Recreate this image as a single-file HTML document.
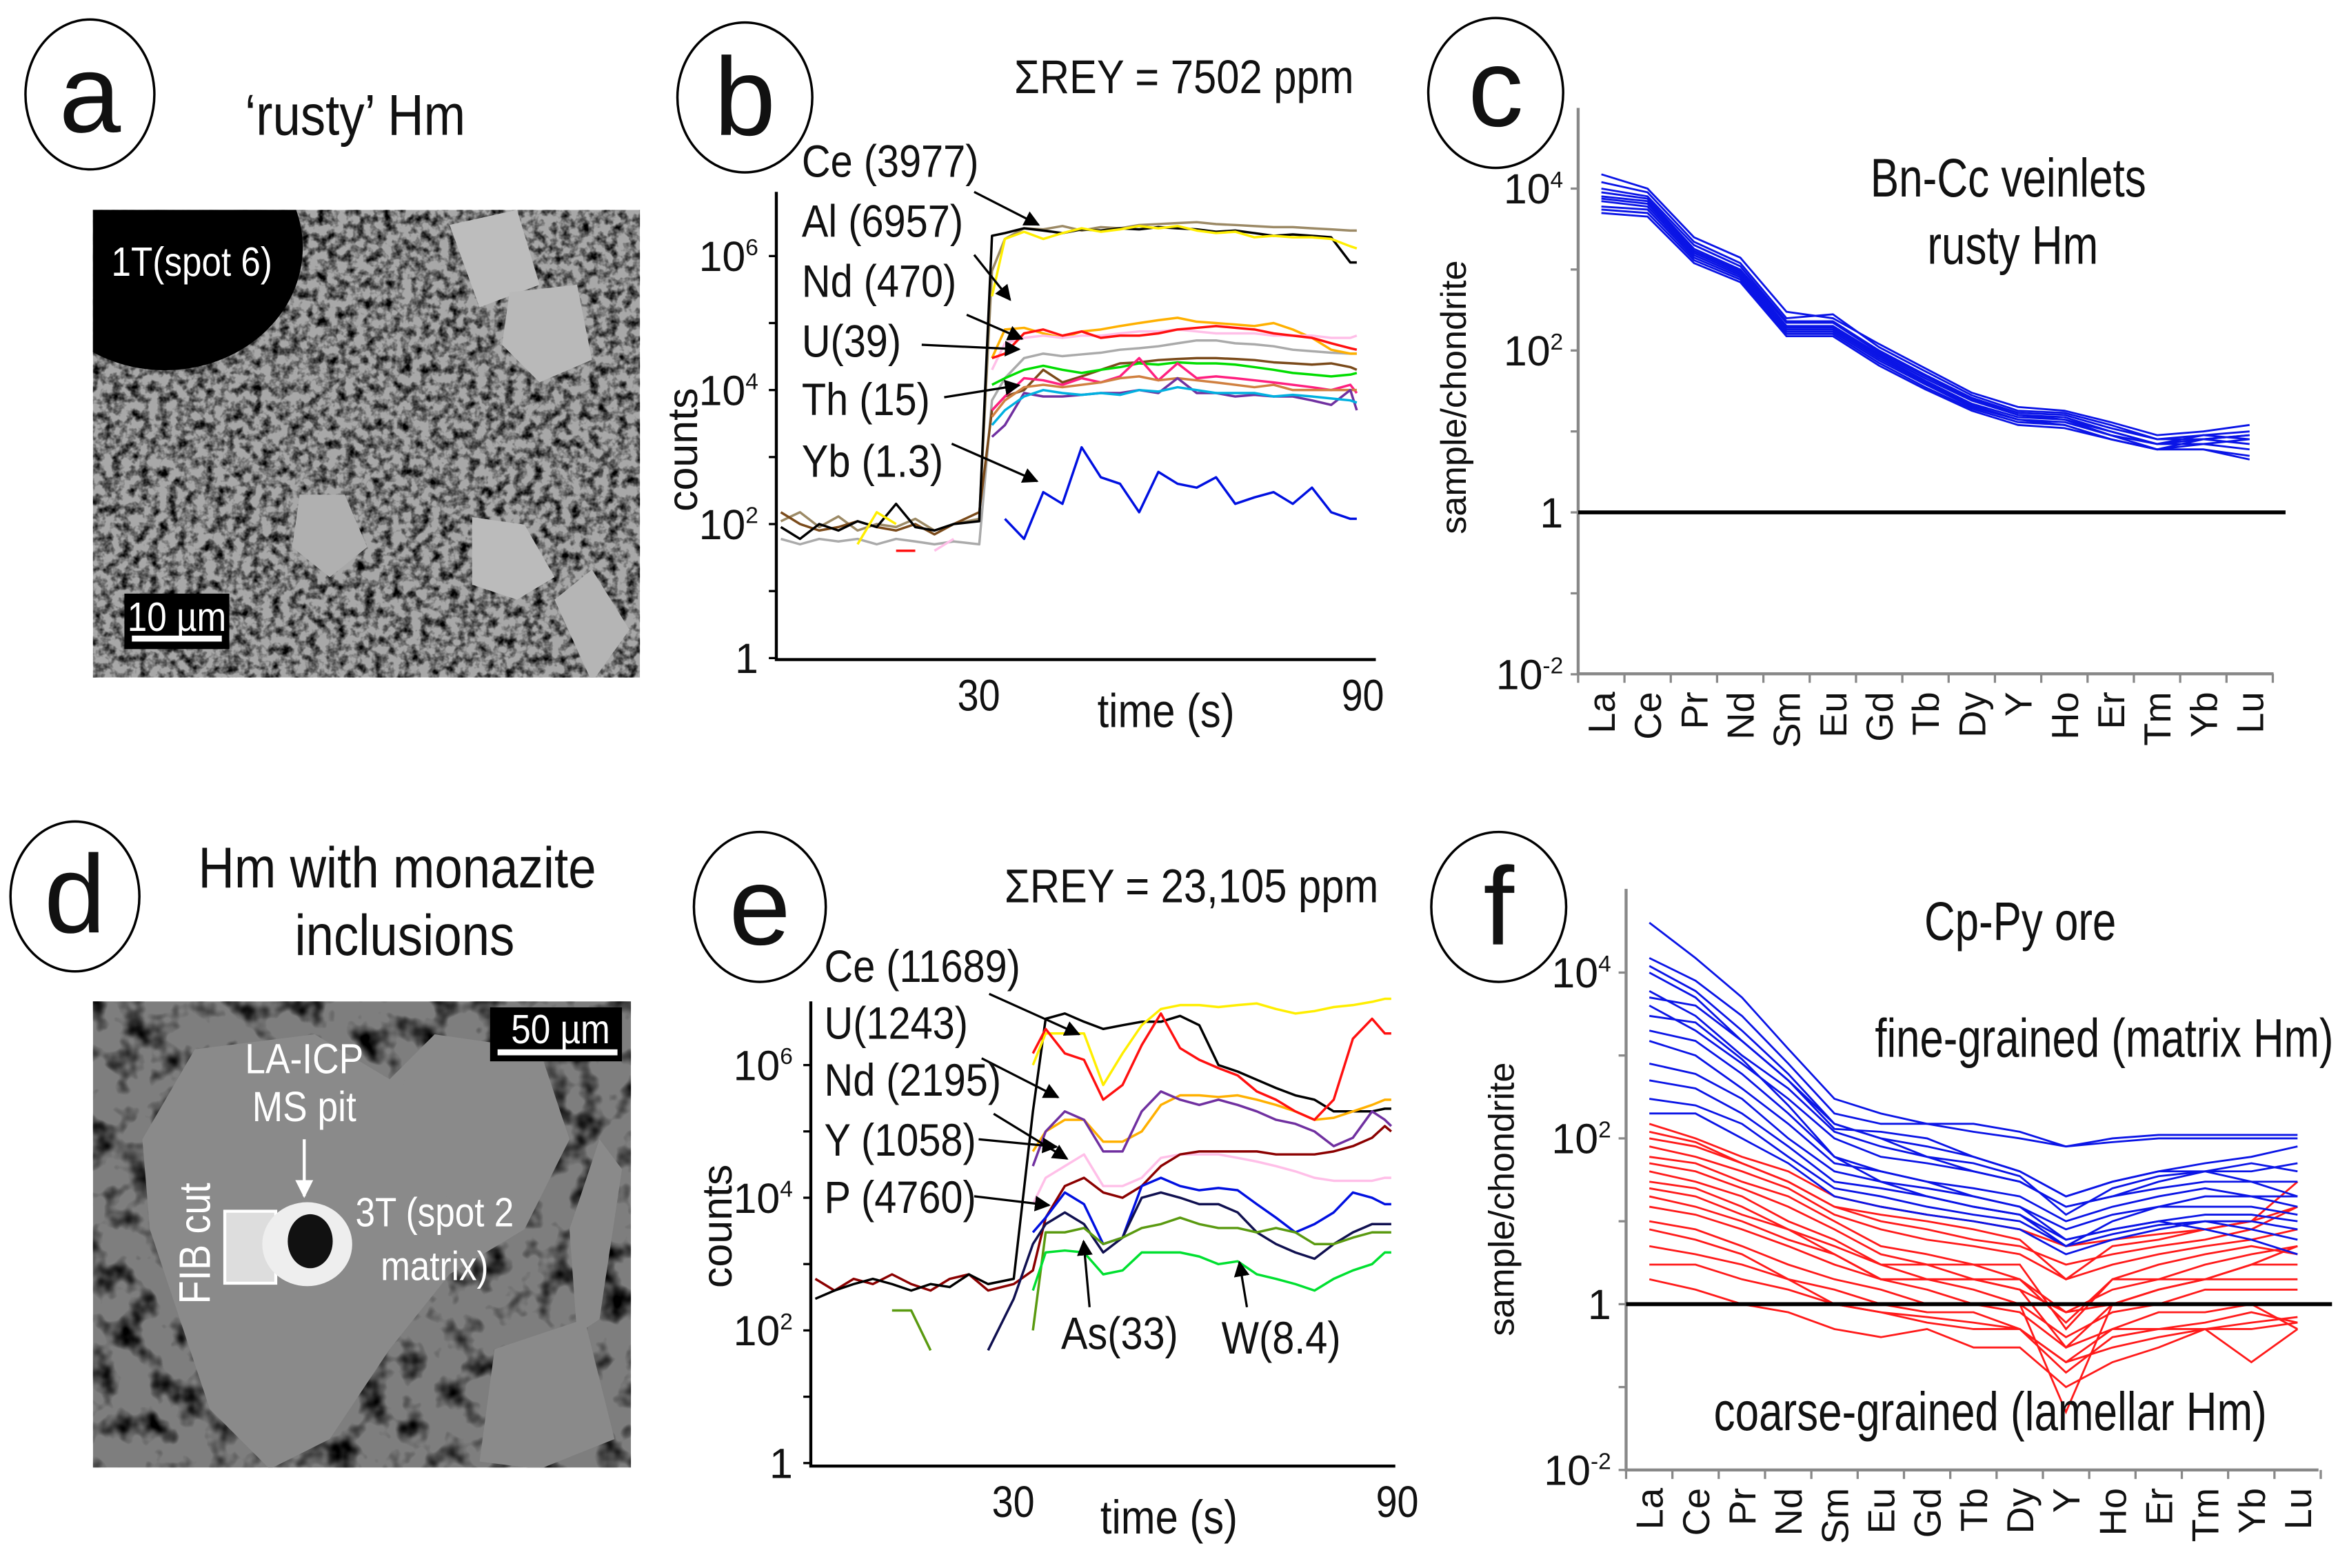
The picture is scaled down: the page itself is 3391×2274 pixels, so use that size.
<!DOCTYPE html>
<html><head><meta charset="utf-8">
<style>
html,body{margin:0;padding:0;background:#fff;}
svg{display:block;}
text{font-family:"Liberation Sans",sans-serif;fill:#111;}
</style></head>
<body>
<svg id="fig" xmlns="http://www.w3.org/2000/svg" width="3391" height="2274" viewBox="0 0 1560 1046" preserveAspectRatio="none">
<defs>
<filter id="semA" x="0" y="0" width="1" height="1">
<feTurbulence type="fractalNoise" baseFrequency="0.16" numOctaves="3" seed="4"/>
<feColorMatrix type="matrix" values="0 0 0 0 0  0 0 0 0 0  0 0 0 0 0  0 0 0 -2.4 1.45"/>
</filter>
<filter id="semD" x="0" y="0" width="1" height="1">
<feTurbulence type="fractalNoise" baseFrequency="0.05" numOctaves="3" seed="9"/>
<feColorMatrix type="matrix" values="0 0 0 0 0  0 0 0 0 0  0 0 0 0 0  0 0 0 -3 1.55"/>
</filter>
<marker id="arr" viewBox="0 0 10 10" refX="9" refY="5" markerWidth="7" markerHeight="7" orient="auto-start-reverse">
<path d="M0,0 L10,5 L0,10 z" fill="#000"/>
</marker>
<marker id="arrW" viewBox="0 0 10 10" refX="9" refY="5" markerWidth="6" markerHeight="6" orient="auto">
<path d="M0,0 L10,5 L0,10 z" fill="#fff"/>
</marker>
<clipPath id="clipA"><rect x="62" y="140" width="365" height="312"/></clipPath>
<clipPath id="clipD"><rect x="62" y="668" width="359" height="311"/></clipPath>
</defs>

<g>
<ellipse cx="60" cy="63" rx="43" ry="50" fill="none" stroke="#000" stroke-width="1.6"/>
<text x="60" y="88" font-size="74" text-anchor="middle">a</text>
<text class="cond" x="237" y="90" font-size="34" text-anchor="middle">‘rusty’ Hm</text>
<g clip-path="url(#clipA)">
<rect x="62" y="140" width="365" height="312" fill="#a8a8a8"/>
<rect x="62" y="140" width="365" height="312" fill="#000" filter="url(#semA)"/>
<polygon points="300,150 345,140 360,190 320,205" fill="#bdbdbd"/>
<polygon points="395,455 420,420 395,380 370,400" fill="#b5b5b5"/>
<polygon points="315,345 350,350 370,385 345,400 315,390" fill="#bbbbbb"/>
<polygon points="340,195 385,190 395,240 360,255 335,230" fill="#b9b9b9"/>
<polygon points="200,330 230,330 245,365 220,385 195,365" fill="#b0b0b0"/>
<ellipse cx="110" cy="165" rx="92" ry="82" fill="#000"/>
</g>
<text class="cond" x="128" y="184" font-size="24" text-anchor="middle" style="fill:#fff">1T(spot 6)</text>
<rect x="83" y="396" width="70" height="37" fill="#000"/>
<text class="cond" x="118" y="421" font-size="24" text-anchor="middle" style="fill:#fff">10 µm</text>
<rect x="88" y="424" width="60" height="4" fill="#fff"/>
</g>

<g>
<ellipse cx="50" cy="598" rx="43" ry="50" fill="none" stroke="#000" stroke-width="1.6"/>
<text x="50" y="622" font-size="74" text-anchor="middle">d</text>
<text class="cond" x="265" y="592" font-size="34" text-anchor="middle">Hm with monazite</text>
<text class="cond" x="270" y="637" font-size="34" text-anchor="middle">inclusions</text>
<g clip-path="url(#clipD)">
<rect x="62" y="668" width="359" height="311" fill="#7e7e7e"/>
<rect x="62" y="668" width="359" height="311" fill="#3c3c3c" filter="url(#semD)"/>
<polygon points="130,700 210,690 260,720 290,690 360,700 380,760 350,820 300,850 260,900 220,960 180,980 140,940 120,880 100,820 95,760" fill="#8a8a8a"/>
<polygon points="270,720 330,700 365,730 350,780 300,800 260,770" fill="#8a8a8a"/>
<polygon points="330,900 390,880 410,960 360,980 320,975" fill="#8a8a8a"/>
<polygon points="380,820 400,760 415,780 400,880 385,890" fill="#8a8a8a"/>
<rect x="150" y="808" width="34" height="48" fill="#ddd" stroke="#fff" stroke-width="2"/>
<ellipse cx="205" cy="830" rx="30" ry="28" fill="#eee"/>
<ellipse cx="207" cy="828" rx="15" ry="18" fill="#111"/>
</g>
<rect x="327" y="672" width="88" height="36" fill="#000"/>
<text class="cond" x="374" y="696" font-size="24" text-anchor="middle" style="fill:#fff">50 µm</text>
<rect x="332" y="700" width="80" height="4" fill="#fff"/>
<text class="cond" x="203" y="716" font-size="25" text-anchor="middle" style="fill:#fff">LA-ICP</text>
<text class="cond" x="203" y="748" font-size="25" text-anchor="middle" style="fill:#fff">MS pit</text>
<line x1="203" y1="760" x2="203" y2="798" stroke="#fff" stroke-width="2" marker-end="url(#arrW)"/>
<text class="cond" x="140" y="870" font-size="26" transform="rotate(-90 140 870)" style="fill:#fff">FIB cut</text>
<text class="cond" x="290" y="818" font-size="24" text-anchor="middle" style="fill:#fff">3T (spot 2</text>
<text class="cond" x="290" y="854" font-size="24" text-anchor="middle" style="fill:#fff">matrix)</text>
</g>

<g>
<ellipse cx="497" cy="65" rx="45" ry="50" fill="none" stroke="#000" stroke-width="1.6"/>
<text x="497" y="90" font-size="74" text-anchor="middle">b</text>
<text class="cond" x="790" y="62" font-size="28" text-anchor="middle">ΣREY = 7502 ppm</text>
<g id="plotB"></g>
</g>
<g>
<ellipse cx="507" cy="605" rx="44" ry="50" fill="none" stroke="#000" stroke-width="1.6"/>
<text x="507" y="630" font-size="74" text-anchor="middle">e</text>
<text class="cond" x="795" y="602" font-size="28" text-anchor="middle">ΣREY = 23,105 ppm</text>
<g id="plotE"></g>
</g>
<g>
<ellipse cx="998" cy="62" rx="45" ry="50" fill="none" stroke="#000" stroke-width="1.6"/>
<text x="998" y="84" font-size="74" text-anchor="middle">c</text>
<text class="cond" data-fixw="184" x="1340" y="131" font-size="32" text-anchor="middle">Bn-Cc veinlets</text>
<text class="cond" data-fixw="114" x="1343" y="176" font-size="32" text-anchor="middle">rusty Hm</text>
<g id="plotC"></g>
</g>
<g>
<ellipse cx="1000" cy="605" rx="45" ry="50" fill="none" stroke="#000" stroke-width="1.6"/>
<text x="1000" y="630" font-size="74" text-anchor="middle">f</text>
<g id="plotF"></g>
<text class="cond" data-fixw="128" x="1348" y="627" font-size="32" text-anchor="middle">Cp-Py ore</text>
<text class="cond" data-fixw="306" x="1404" y="705" font-size="32" text-anchor="middle">fine-grained (matrix Hm)</text>
<text class="cond" data-fixw="369" x="1328" y="954" font-size="32" text-anchor="middle">coarse-grained (lamellar Hm)</text>
</g>
</svg>
<script>
// ---- data: panel b (time-resolved counts) ----
var timeB = [0,3,6,9,12,15,18,21,24,27,31,33,35,38,41,44,47,50,53,56,59,62,65,68,71,74,77,80,83,86,89,90];
var bBlack  = [90,60,100,80,110,90,200,90,80,100,110,2e6,2.2e6,2.6e6,2.4e6,2.2e6,2.5e6,2.4e6,2.6e6,2.5e6,2.7e6,2.6e6,2.5e6,2.3e6,2.4e6,2.2e6,2.0e6,2.1e6,2.0e6,1.9e6,8e5,8e5];
var bTan    = [110,150,90,130,80,100,90,120,80,100,120,6e5,1.8e6,2.6e6,2.5e6,2.8e6,2.4e6,2.7e6,2.6e6,2.9e6,3.0e6,3.1e6,3.2e6,3.0e6,2.9e6,2.8e6,2.7e6,2.7e6,2.6e6,2.5e6,2.4e6,2.4e6];
var bYellow = [null,null,null,null,50,150,100,null,null,50,null,2.5e5,1.8e6,2.3e6,1.8e6,2.2e6,2.6e6,2.3e6,2.5e6,2.8e6,2.6e6,2.8e6,2.4e6,2.2e6,2.3e6,1.9e6,2.0e6,1.9e6,1.9e6,1.8e6,1.4e6,1.3e6];
var bGrey   = [60,50,60,55,60,50,60,55,50,55,50,7e3,1.5e4,3e4,3.5e4,3.2e4,3.4e4,3.6e4,4e4,4.2e4,4.5e4,5e4,5.5e4,5.5e4,5e4,4.8e4,4.5e4,4e4,3.8e4,3.6e4,3.5e4,3.5e4];
var bOrange = [null,null,null,null,null,null,null,null,null,null,null,3e4,8e4,8.5e4,7e4,6e4,7.5e4,8e4,9e4,1e5,1.1e5,1.2e5,1.05e5,1e5,9.5e4,9e4,1e5,8e4,6e4,4e4,3.5e4,3.5e4];
var bRed    = [null,null,null,null,40,null,40,40,null,null,null,3e4,3.5e4,7e4,8e4,6.5e4,7.5e4,6e4,6.5e4,6.5e4,7e4,8e4,8.5e4,9e4,8.5e4,8e4,7e4,6.5e4,6e4,5e4,4.2e4,4e4];
var bPink   = [null,null,null,null,null,null,null,null,40,60,null,2e4,5e4,6e4,6.5e4,6e4,6.5e4,6.5e4,7e4,7.5e4,7.5e4,8e4,7.5e4,7e4,7e4,7e4,6.5e4,6.5e4,6.5e4,6e4,6e4,6.5e4];
var bGreen  = [null,null,null,null,null,null,null,null,null,null,null,1.2e4,1.5e4,2e4,2.3e4,2e4,1.8e4,2e4,2.2e4,2.5e4,2.4e4,2.6e4,2.5e4,2.5e4,2.4e4,2.2e4,2e4,1.8e4,1.7e4,1.6e4,1.7e4,1.8e4];
var bBrown  = [150,100,80,90,110,90,80,100,70,100,150,5e3,8e3,1e4,2e4,1.3e4,1.6e4,2e4,2.5e4,2.6e4,2.8e4,2.9e4,3e4,3e4,2.9e4,2.8e4,2.6e4,2.5e4,2.4e4,2.5e4,2.2e4,2e4];
var bMagenta= [null,null,null,null,null,null,null,null,null,null,null,5e3,8e3,1.5e4,1.4e4,1.2e4,1.5e4,1.3e4,1.6e4,3e4,1.4e4,2.5e4,1.5e4,1.6e4,1.5e4,1.4e4,1.3e4,1.2e4,1.1e4,1.0e4,1.2e4,9e3];
var bPeru   = [null,null,null,null,null,null,null,null,null,null,null,4e3,7e3,1.1e4,1.2e4,1.1e4,1.2e4,1.3e4,1.5e4,1.6e4,1.4e4,1.5e4,1.4e4,1.3e4,1.2e4,1.1e4,1.2e4,1.0e4,1.0e4,1.0e4,1.0e4,1.0e4];
var bCyan   = [null,null,null,null,null,null,null,null,null,null,null,3e3,5e3,8e3,1e4,9e3,8.5e3,9e3,8.5e3,1e4,9.5e3,1.1e4,1e4,9e3,9e3,9e3,8e3,8.5e3,8e3,7.5e3,7e3,6.5e3];
var bPurple = [null,null,null,null,null,null,null,null,null,null,null,2e3,3e3,9e3,8e3,8e3,8.5e3,9e3,9e3,1e4,9e3,1.5e4,9e3,9e3,8e3,8.5e3,8e3,8e3,7e3,6e3,1e4,5e3];
var bBlue   = [null,null,null,null,null,null,null,null,null,null,null,null,120,60,300,200,1400,500,400,150,600,400,350,500,200,250,300,200,350,150,120,120];
// ---- data: panel e ----
var timeE = [0,3,6,9,12,15,18,21,24,27,31,34,36,39,42,45,48,51,54,57,60,63,66,69,72,75,78,81,84,87,89,90];
var eBlack  = [300,400,500,600,500,400,500,450,700,500,600,2e5,5e6,6e6,4.5e6,3.5e6,4e6,4.5e6,4.5e6,5.5e6,4e6,1e6,8e5,6e5,4.5e5,3.5e5,3e5,2e5,2e5,2e5,2.2e5,2.2e5];
var eMaroon = [600,400,600,500,700,500,400,600,700,400,500,800,5e3,1.5e4,2e4,1.2e4,1e4,1.5e4,3e4,4.5e4,5e4,5e4,5e4,5e4,4.5e4,4.5e4,4.5e4,5e4,6e4,8e4,1.2e5,1e5];
var eYellow = [null,null,null,50,null,null,null,null,null,null,null,1e6,3e6,3e6,3e6,5e5,1.5e6,4e6,7e6,8e6,8e6,7.5e6,8e6,8.5e6,7e6,6e6,6.5e6,7.5e6,8e6,9e6,1e7,1e7];
var eRed    = [null,null,null,null,null,null,null,null,null,null,null,1.5e6,3.5e6,1.5e6,1.2e6,3e5,5e5,2e6,6e6,1.8e6,1.2e6,9e5,7e5,4e5,3e5,2e5,1.5e5,3e5,2.5e6,5e6,3e6,3e6];
var ePurple = [null,null,null,null,null,null,null,null,null,null,null,3e4,1e5,2e5,1.5e5,5e4,5e4,2e5,4e5,3e5,2.5e5,3e5,2.5e5,2e5,1.5e5,1.3e5,1e5,6e4,8e4,2e5,1.5e5,1.2e5];
var eOrange = [null,null,null,null,null,null,null,null,null,null,null,5e4,1e5,1.5e5,1.5e5,7e4,7e4,1e5,2.5e5,3.5e5,3.5e5,3.3e5,3.5e5,3e5,2.5e5,2e5,1.5e5,1.6e5,2e5,2.5e5,3e5,3e5];
var ePink   = [60,null,null,null,null,null,null,null,null,null,null,8e3,2e4,3e4,4.5e4,1.5e4,1.5e4,2e4,4e4,4.5e4,4.5e4,4.5e4,4e4,3.5e4,3e4,2.5e4,2e4,1.8e4,1.8e4,1.8e4,2e4,2e4];
var eNavy   = [null,null,null,null,null,null,null,null,null,50,300,2e3,4e3,6e3,4e3,1.5e3,2.5e3,1e4,1.2e4,1e4,8e3,8e3,6e3,3e3,2e3,1.5e3,1.2e3,2e3,3e3,4e3,4e3,4e3];
var eBlue   = [null,null,null,null,null,null,null,null,null,null,null,3e3,5e3,1.2e4,8e3,2e3,2.5e3,1.5e4,2e4,1.5e4,1.3e4,1.4e4,1.3e4,8e3,5e3,3e3,4e3,6e3,1.2e4,1e4,8e3,8e3];
var eOlive  = [null,null,null,null,200,200,50,null,null,null,null,100,3e3,3e3,3.5e3,2e3,2.5e3,3.5e3,4e3,5e3,4e3,3.5e3,3.5e3,3e3,3.5e3,3e3,2e3,2e3,2.5e3,3e3,3e3,3e3];
var eGreen  = [null,null,null,null,null,null,null,null,null,null,null,400,1.5e3,1.6e3,1.5e3,700,800,1.5e3,1.5e3,1.5e3,1.3e3,1e3,1.1e3,700,600,500,400,600,800,1e3,1.5e3,1.5e3];
var timeTicks = [30, 90];
var countTicks = [1, 100, 1e4, 1e6];
// ---- data: panel c & f (chondrite-normalized REY) ----
var elements = ["La","Ce","Pr","Nd","Sm","Eu","Gd","Tb","Dy","Y","Ho","Er","Tm","Yb","Lu"];
var cSeries = [
 [15000,10000,2500,1400,300,250,120,60,30,20,18,13,9,10,12],
 [12000,9000,2200,1200,250,280,110,55,28,18,17,12,8,9,10],
 [10000,8000,2000,1100,230,230,100,50,26,17,16,11,8,8,9],
 [9000,7500,1800,1000,220,220,95,48,25,16,15,10,7,9,8],
 [8000,7000,1700,950,200,200,90,45,24,16,14,10,7,8,7],
 [7500,6500,1600,900,190,190,85,42,22,15,14,9,7,7,6],
 [7000,6000,1500,850,180,180,80,40,21,14,13,9,6,6,5],
 [6000,5500,1400,800,170,170,75,38,20,14,12,8,6,6,4.5],
 [5500,5000,1300,750,160,160,70,35,19,13,12,8,6,7,8],
 [5000,4500,1200,700,150,150,65,33,18,12,11,8,6,8,9]
];
var fFine = [
 [40000,15000,5000,1200,300,200,150,150,120,80,100,110,110,110,110],
 [15000,8000,3000,800,200,150,150,120,100,80,90,100,100,100,100],
 [12000,6000,2000,600,150,100,80,60,40,20,30,40,50,60,80],
 [5000,4000,1500,500,150,100,60,40,30,15,20,30,40,50,40],
 [4000,2000,800,300,100,60,50,40,30,15,20,25,30,30,30],
 [2000,1500,600,200,60,40,30,25,20,10,15,20,25,20,20],
 [1500,1000,400,150,50,40,30,20,15,8,12,15,20,20,15],
 [800,600,300,100,40,30,20,15,12,5,10,15,15,15,12],
 [500,400,200,80,30,25,20,15,12,6,8,10,12,12,10],
 [300,250,150,60,25,20,15,12,10,5,7,9,10,10,8],
 [200,200,100,50,20,15,12,10,8,4,6,8,10,8,6],
 [6000,3000,1000,400,120,80,60,50,35,12,25,35,40,40,50],
 [10000,5000,1500,500,130,120,100,60,40,20,30,40,40,30,20],
 [3000,2500,900,250,60,30,25,20,15,6,8,10,8,6,4]
];
var fCoarse = [
 [150,100,60,40,20,15,12,10,8,5,6,7,8,10,30],
 [100,80,50,30,15,10,8,6,5,3,4,5,6,8,15],
 [80,60,40,25,12,8,6,5,4,2,3,4,5,6,8],
 [60,50,30,20,10,5,4,3,3,0.5,2,3,4,5,4],
 [50,40,25,15,8,4,3,3,2,0.6,2,2,3,4,5],
 [40,30,20,10,6,3,3,2,2,0.8,1.5,2,2,3,3],
 [30,25,15,8,5,3,2,2,1.5,0.3,1,1.5,2,2,2],
 [20,15,10,6,4,2,2,1.5,1,0.05,1,1,1.5,1.5,1.5],
 [15,12,8,5,3,2,1.5,1,1,0.4,0.8,1,1,1,1],
 [10,8,5,3,2,1.5,1,1,0.8,0.3,0.5,0.8,0.8,1,0.5],
 [8,6,4,2,1.5,1,0.8,0.8,0.5,0.2,0.5,0.5,0.6,0.8,0.6],
 [5,4,3,2,1,0.8,0.6,0.5,0.5,0.15,0.4,0.5,0.5,0.6,0.7],
 [3,3,2,1.5,1,0.8,0.7,0.6,0.5,0.2,0.3,0.4,0.5,0.5,0.6],
 [120,90,50,30,15,12,10,8,6,2,5,6,8,10,15],
 [2,1.5,1,0.8,0.5,0.4,0.5,0.3,0.3,0.1,0.2,0.3,0.5,0.2,0.5],
 [25,20,12,8,4,2,2,2,1.5,0.8,1,1.5,2,3,5]
];
var reyTicks = [0.01, 1, 100, 10000];

var NS = "http://www.w3.org/2000/svg";
function mk(tag, attrs, parent) {
  var el = document.createElementNS(NS, tag);
  for (var k in attrs) el.setAttribute(k, attrs[k]);
  parent.appendChild(el);
  return el;
}
function pathFrom(xs, ys, xf, yf) {
  var d = "", pen = false;
  for (var i = 0; i < ys.length; i++) {
    if (ys[i] === null || ys[i] === undefined) { pen = false; continue; }
    d += (pen ? "L" : "M") + xf(xs[i]).toFixed(1) + "," + yf(ys[i]).toFixed(1);
    pen = true;
  }
  return d;
}
function supLabel(g, x, y, exp, size, name) {
  var t = mk("text", {x: x, y: y, "font-size": size, "text-anchor": "end"}, g);
  
  
  if (exp === 0) { t.textContent = "1"; return; }
  t.textContent = "10";
  var s = mk("tspan", {dy: -size * 0.38, "font-size": size * 0.55}, t);
  s.textContent = String(exp);
}

function timePlot(gid, ax, seriesList, labels) {
  var g = document.getElementById(gid);
  var xf = function (t) { return ax.x0 + t * ax.sx; };
  var yf = function (v) { return ax.y0 - Math.log10(v) * ax.dec; };
  var axis = mk("path", {d: "M" + ax.left + "," + ax.top + "L" + ax.left + "," + ax.bottom + "L" + ax.right + "," + ax.bottom, fill: "none", stroke: "#000", "stroke-width": 2}, g);
  
  
  for (var e = 0; e <= 6; e++) {
    var yy = yf(Math.pow(10, e));
    var tk = mk("line", {x1: ax.left - 5, x2: ax.left, y1: yy, y2: yy, stroke: "#000", "stroke-width": 1.5}, g);
    
    
  }
  countTicks.forEach(function (v) {
    var ex = Math.round(Math.log10(v));
    supLabel(g, ax.left - 12, yf(v) + 10, ex, 28, 'y-tick-label');
  });
  timeTicks.forEach(function (t) {
    var tl = mk("text", {x: xf(t) + 4, y: ax.bottom + 34, "font-size": 26, "text-anchor": "middle", "class": "cond"}, g);
    
    
    tl.textContent = String(t);
  });
  var xt = mk("text", {x: ax.xTitleX, y: ax.bottom + 45, "font-size": 28, "text-anchor": "middle", "class": "cond"}, g);
  
  
  xt.textContent = "time (s)";
  var yt = mk("text", {x: 0, y: 0, "font-size": 28, "text-anchor": "middle", transform: "translate(" + (ax.left - 53) + "," + ax.yTitleY + ") rotate(-90)"}, g);
  
  
  yt.textContent = "counts";
  seriesList.forEach(function (s) {
    var p = mk("path", {d: pathFrom(s.t, s.v, xf, yf), fill: "none", stroke: s.c, "stroke-width": 1.6, "stroke-linejoin": "round"}, g);
    
    
  });
  labels.forEach(function (l) {
    var t = mk("text", {x: l.x, y: l.y, "font-size": 27, "class": "cond"}, g);
    
    
    t.textContent = l.txt;
    var a = mk("line", {x1: l.ax1, y1: l.ay1, x2: l.ax2, y2: l.ay2, stroke: "#000", "stroke-width": 1.5, "marker-end": "url(#arr)"}, g);
    
    
  });
}
timePlot("plotB", {x0: 521, sx: 4.27, y0: 439, dec: 44.7, left: 518, right: 918, top: 128, bottom: 440, xTitleX: 778, yTitleY: 300}, [
  {t: timeB, v: bGrey, c: "#aaaaaa", n: "series-grey"},
  {t: timeB, v: bTan, c: "#9c8a66", n: "series-tan"},
  {t: timeB, v: bBrown, c: "#7a4a1a", n: "series-brown"},
  {t: timeB, v: bOrange, c: "#ffb000", n: "series-orange"},
  {t: timeB, v: bPink, c: "#ffbfe8", n: "series-pink"},
  {t: timeB, v: bRed, c: "#ff1010", n: "series-nd"},
  {t: timeB, v: bGreen, c: "#00dd00", n: "series-th"},
  {t: timeB, v: bMagenta, c: "#ff2080", n: "series-magenta"},
  {t: timeB, v: bPeru, c: "#d08040", n: "series-peru"},
  {t: timeB, v: bPurple, c: "#7030a0", n: "series-purple"},
  {t: timeB, v: bCyan, c: "#00b0e0", n: "series-u"},
  {t: timeB, v: bBlack, c: "#000000", n: "series-al"},
  {t: timeB, v: bYellow, c: "#ffee00", n: "series-ce"},
  {t: timeB, v: bBlue, c: "#0010e0", n: "series-yb"}
], [
  {txt: "Ce (3977)", x: 535, y: 118, ax1: 650, ay1: 128, ax2: 693, ay2: 150, n: "label-ce"},
  {txt: "Al (6957)", x: 535, y: 158, ax1: 650, ay1: 170, ax2: 674, ay2: 200, n: "label-al"},
  {txt: "Nd (470)", x: 535, y: 198, ax1: 645, ay1: 210, ax2: 682, ay2: 226, n: "label-nd"},
  {txt: "U(39)", x: 535, y: 238, ax1: 615, ay1: 230, ax2: 680, ay2: 233, n: "label-u"},
  {txt: "Th (15)", x: 535, y: 277, ax1: 630, ay1: 265, ax2: 680, ay2: 257, n: "label-th"},
  {txt: "Yb (1.3)", x: 535, y: 318, ax1: 635, ay1: 296, ax2: 692, ay2: 321, n: "label-yb"}
]);
timePlot("plotE", {x0: 544, sx: 4.27, y0: 976, dec: 44.25, left: 541, right: 931, top: 668, bottom: 978, xTitleX: 780, yTitleY: 818}, [
  {t: timeE, v: ePink, c: "#ffbfe8", n: "series-pink"},
  {t: timeE, v: eMaroon, c: "#8b0000", n: "series-p"},
  {t: timeE, v: eBlack, c: "#000000", n: "series-black"},
  {t: timeE, v: eOrange, c: "#ffb000", n: "series-y"},
  {t: timeE, v: ePurple, c: "#7030a0", n: "series-nd"},
  {t: timeE, v: eYellow, c: "#ffee00", n: "series-ce"},
  {t: timeE, v: eRed, c: "#ff1010", n: "series-u"},
  {t: timeE, v: eBlue, c: "#0010e0", n: "series-blue"},
  {t: timeE, v: eNavy, c: "#101050", n: "series-navy"},
  {t: timeE, v: eOlive, c: "#5a9a10", n: "series-as"},
  {t: timeE, v: eGreen, c: "#00e030", n: "series-w"}
], [
  {txt: "Ce (11689)", x: 550, y: 655, ax1: 660, ay1: 663, ax2: 720, ay2: 690, n: "label-ce"},
  {txt: "U(1243)", x: 550, y: 693, ax1: 655, ay1: 706, ax2: 706, ay2: 732, n: "label-u"},
  {txt: "Nd (2195)", x: 550, y: 731, ax1: 663, ay1: 743, ax2: 712, ay2: 773, n: "label-nd"},
  {txt: "Y (1058)", x: 550, y: 771, ax1: 653, ay1: 760, ax2: 705, ay2: 765, n: "label-y"},
  {txt: "P (4760)", x: 550, y: 809, ax1: 650, ay1: 798, ax2: 700, ay2: 804, n: "label-p"},
  {txt: "As(33)", x: 708, y: 900, ax1: 727, ay1: 872, ax2: 723, ay2: 828, n: "label-as"},
  {txt: "W(8.4)", x: 815, y: 903, ax1: 832, ay1: 872, ax2: 827, ay2: 842, n: "label-w"}
]);

function reyPlot(gid, ax, groups) {
  var g = document.getElementById(gid);
  var xf = function (i) { return ax.left + ax.step * (i + 0.5); };
  var yf = function (v) { return ax.y0 - Math.log10(v) * ax.dec; };
  var axis = mk("path", {d: "M" + ax.left + "," + ax.top + "L" + ax.left + "," + ax.bottom + "L" + ax.right + "," + ax.bottom, fill: "none", stroke: "#888", "stroke-width": 2}, g);
  
  
  for (var e = -2; e <= 4; e++) {
    var yy = yf(Math.pow(10, e));
    var tk = mk("line", {x1: ax.left - 5, x2: ax.left, y1: yy, y2: yy, stroke: "#888", "stroke-width": 1.5}, g);
    
    
  }
  for (var k = 0; k <= elements.length; k++) {
    var xx = ax.left + ax.step * k;
    var xt = mk("line", {x1: xx, x2: xx, y1: ax.bottom, y2: ax.bottom + 6, stroke: "#888", "stroke-width": 1.5}, g);
    
    
  }
  reyTicks.forEach(function (v) {
    supLabel(g, ax.left - 10, yf(v) + 10, Math.round(Math.log10(v)), 28, 'y-tick-label');
  });
  elements.forEach(function (el, i) {
    var x = xf(i) + 9, y = ax.bottom + 12;
    var t = mk("text", {x: x, y: y, "font-size": 25, "text-anchor": "end", transform: "rotate(-90 " + x + " " + y + ")"}, g);
    
    
    t.textContent = el;
  });
  var yt = mk("text", {x: 0, y: 0, "font-size": 24, "text-anchor": "middle", transform: "translate(" + (ax.left - 75) + "," + ax.yTitleY + ") rotate(-90)"}, g);
  
  
  yt.textContent = "sample/chondrite";
  var idx = elements.map(function (_, i) { return i; });
  groups.forEach(function (grp) {
    grp.data.forEach(function (row, r) {
      var p = mk("path", {d: pathFrom(idx, row, xf, yf), fill: "none", stroke: grp.c, "stroke-width": 1.3}, g);
      
      
    });
  });
  var ref = mk("line", {x1: ax.left, x2: ax.refEnd, y1: yf(1), y2: yf(1), stroke: "#000", "stroke-width": 2.6}, g);
  
  
}
reyPlot("plotC", {left: 1053, right: 1517, step: 30.9, top: 72, bottom: 449.5, y0: 341.8, dec: 54, yTitleY: 265, refEnd: 1525},
  [{data: cSeries, c: "#0a14e6", n: "rusty-hm-line"}]);
reyPlot("plotF", {left: 1085, right: 1547, step: 30.9, top: 593, bottom: 980.6, y0: 870, dec: 55.3, yTitleY: 800, refEnd: 1556},
  [{data: fCoarse, c: "#ff1a1a", n: "coarse-grained-line"}, {data: fFine, c: "#0a14e6", n: "fine-grained-line"}]);

// condensed-font emulation: taller glyphs, narrower advance
Array.prototype.forEach.call(document.querySelectorAll("text.cond"), function (t) {
  var fs = parseFloat(t.getAttribute("font-size"));
  t.setAttribute("font-size", (fs * 1.13).toFixed(1));
  var fixed = t.getAttribute("data-fixw");
  var w = fixed ? parseFloat(fixed) : t.getComputedTextLength() * 0.87;
  t.setAttribute("textLength", w.toFixed(1));
  t.setAttribute("lengthAdjust", "spacingAndGlyphs");
});
</script>
</body></html>
